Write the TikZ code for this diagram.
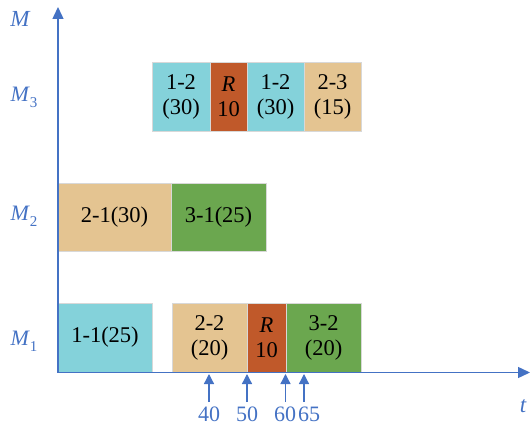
\documentclass[tikz,border=0pt]{standalone}
\usepackage{fontspec}
\setmainfont{Liberation Serif}
\usetikzlibrary{arrows.meta}
\definecolor{axblue}{HTML}{4472C4}
\definecolor{cyanb}{HTML}{84D2DA}
\definecolor{tanb}{HTML}{E4C491}
\definecolor{orgb}{HTML}{C0592A}
\definecolor{grnb}{HTML}{6BA74F}
\definecolor{edgeg}{HTML}{D8D8D8}
\newcommand{\mysub}[1]{\raisebox{-0.6ex}{\fontsize{15}{15}\selectfont #1}}
\tikzset{
  box/.style={draw=edgeg, line width=0.8pt, inner sep=0pt, align=center,
    font=\fontsize{22.5}{25}\selectfont},
  axis/.style={draw=axblue, line width=1.4pt, -{Triangle[length=12pt,width=11pt]}},
  tick/.style={draw=axblue, line width=1.3pt, -{Triangle[length=10pt,width=10pt]}},
  lab/.style={text=axblue, inner sep=0pt, font=\fontsize{22}{24}\selectfont},
}
\begin{document}
\begin{tikzpicture}[x=1pt,y=-1pt]
\useasboundingbox (0,0) rectangle (530,430);
% M3 row
\node[box, fill=cyanb, minimum width=58pt, minimum height=69pt] (a1) at (181,96.5) {1-2\\(30)};
\node[box, fill=orgb, minimum width=37pt, minimum height=69pt] (a2) at (228.5,96.5) {\textit{R}\\10};
\node[box, fill=cyanb, minimum width=57pt, minimum height=69pt] (a3) at (275.5,96.5) {1-2\\(30)};
\node[box, fill=tanb, minimum width=57pt, minimum height=69pt] (a4) at (332.5,96.5) {2-3\\(15)};
% M2 row
\node[box, fill=tanb, minimum width=113pt, minimum height=68pt] (b1) at (114.5,217) {2-1(30)};
\node[box, fill=grnb, minimum width=95pt, minimum height=68pt] (b2) at (218.5,217) {3-1(25)};
% M1 row
\node[box, fill=cyanb, minimum width=94pt, minimum height=69pt] (c1) at (105,337.5) {1-1(25)};
\node[box, fill=tanb, minimum width=75pt, minimum height=69pt] (c2) at (209.5,337.5) {2-2\\(20)};
\node[box, fill=orgb, minimum width=39pt, minimum height=69pt] (c3) at (266.5,337.5) {\textit{R}\\10};
\node[box, fill=grnb, minimum width=75pt, minimum height=69pt] (c4) at (323.5,337.5) {3-2\\(20)};
% axes
\coordinate (O) at (58,372.5);
\coordinate (ytop) at (58,7);
\coordinate (xend) at (530,372.5);
\draw[axis] (O) -- (ytop);
\draw[axis] (O) -- (xend);
% axis labels
\node[lab, font=\fontsize{23}{24}\selectfont\itshape] (lM) at (20,19) {M};
\node[lab] (lM3) at (24,97) {\textit{M}\mysub{3}};
\node[lab] (lM2) at (24,216) {\textit{M}\mysub{2}};
\node[lab] (lM1) at (24,341) {\textit{M}\mysub{1}};
\node[lab, font=\fontsize{23}{24}\selectfont\itshape] (lt) at (523,406) {t};
% ticks
\coordinate (t40) at (209,402);
\coordinate (t40e) at (209,374);
\coordinate (t50) at (247,402);
\coordinate (t50e) at (247,374);
\coordinate (t60) at (285.5,402);
\coordinate (t60e) at (285.5,374);
\coordinate (t65) at (304,402);
\coordinate (t65e) at (304,374);
\draw[tick] (t40) -- (t40e);
\draw[tick] (t50) -- (t50e);
\draw[tick] (t60) -- (t60e);
\draw[tick] (t65) -- (t65e);
\node[lab] (n40) at (209,414) {40};
\node[lab] (n50) at (247,414) {50};
\node[lab] (n60) at (285,414) {60};
\node[lab] (n65) at (309,414) {65};
\end{tikzpicture}
\end{document}
